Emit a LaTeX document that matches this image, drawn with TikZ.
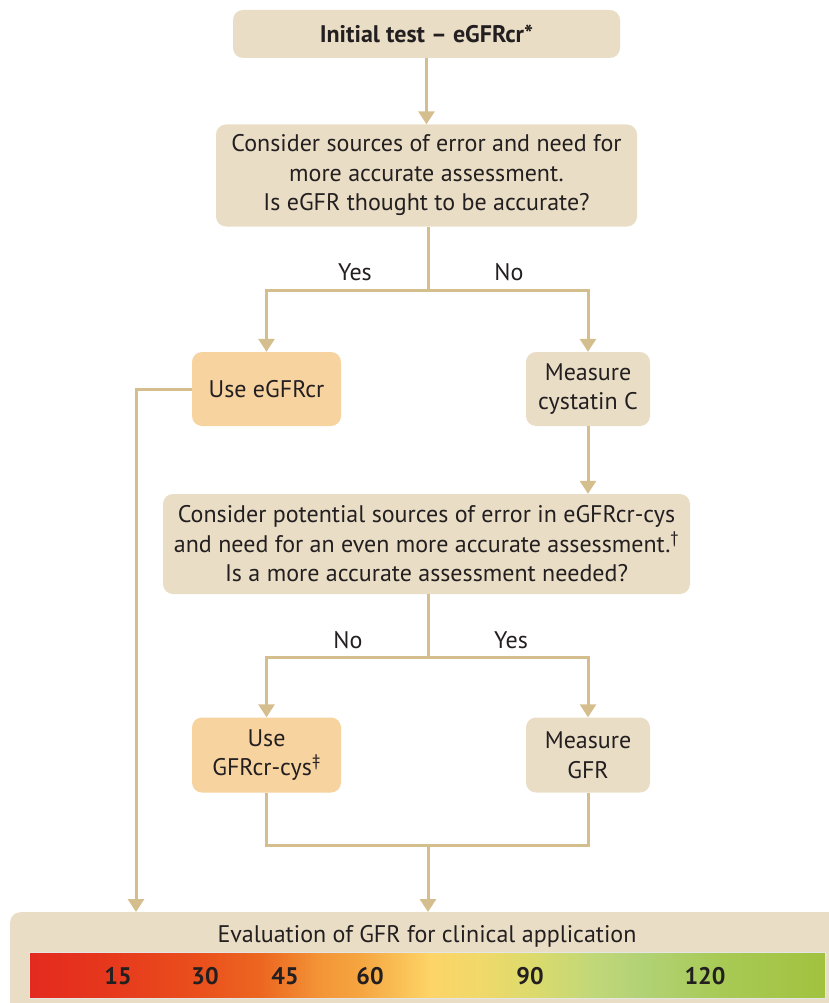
\documentclass[tikz,border=0pt]{standalone}
\usepackage{fontspec}
\setmainfont{PT Sans}
\usetikzlibrary{arrows.meta}
\definecolor{beige}{HTML}{E9DDC5}
\definecolor{peach}{HTML}{F7D3A0}
\definecolor{linec}{HTML}{D5BE8E}
\definecolor{txt}{HTML}{231F20}
\definecolor{g1}{HTML}{E42A1F}
\definecolor{g2}{HTML}{E6361D}
\definecolor{g3}{HTML}{EA501C}
\definecolor{g4}{HTML}{EC6620}
\definecolor{g5}{HTML}{F39537}
\definecolor{g6}{HTML}{F5A540}
\definecolor{g7}{HTML}{FDD467}
\definecolor{g8}{HTML}{F0D96A}
\definecolor{g9}{HTML}{D9DA6D}
\definecolor{g10}{HTML}{C2D878}
\definecolor{g11}{HTML}{B2D276}
\definecolor{g12}{HTML}{A8CA55}
\definecolor{g13}{HTML}{A1C23F}
\begin{document}
\begin{tikzpicture}[x=1pt,y=-1pt,
  box/.style={rounded corners=10pt, fill=beige, align=center, text=txt,
    font=\fontsize{24}{29.5}\selectfont, inner sep=0pt},
  peachbox/.style={box, fill=peach},
  conn/.style={draw=linec, line width=3pt},
  arr/.style={conn, -{Triangle[width=16pt,length=13pt]}},
  lbl/.style={text=txt, font=\fontsize{24}{28}\selectfont, inner sep=0pt},
  num/.style={text=txt, font=\fontsize{24}{28}\selectfont\bfseries, inner sep=0pt}]
\useasboundingbox (0,0) rectangle (829,1003);

\node[box, minimum width=387pt, minimum height=48pt] (init) at (426.5,34)
  {\bfseries Initial test – eGFRcr*};
\node[box, minimum width=421pt, minimum height=102pt] (q1) at (426.5,175.5)
  {Consider sources of error and need for\\more accurate assessment.\\Is eGFR thought to be accurate?};
\node[peachbox, minimum width=149pt, minimum height=74pt] (ueg) at (266.5,389)
  {Use eGFRcr};
\node[box, minimum width=124pt, minimum height=74pt] (cys) at (588,389)
  {Measure\\cystatin C};
\node[box, minimum width=527pt, minimum height=100pt] (q2) at (426.5,544)
  {Consider potential sources of error in eGFRcr-cys\\and need for an even more accurate assessment.\textsuperscript{†}\\Is a more accurate assessment needed?};
\node[peachbox, minimum width=149pt, minimum height=75pt] (ucc) at (266.5,755)
  {Use\\GFRcr-cys\textsuperscript{‡}};
\node[box, minimum width=124pt, minimum height=75pt] (mgfr) at (588,755)
  {Measure\\GFR};

\begin{scope}
  \clip (0,0) rectangle (829,1003);
  \node[box, anchor=north west, minimum width=840pt, minimum height=110pt] (ev) at (10,912) {};
\end{scope}
\node[lbl] (evt) at (427,936) {Evaluation of GFR for clinical application};

% gradient bar
\shade[left color=g1, right color=g2] (29,952) rectangle (100,998);
\shade[left color=g2, right color=g3] (100,952) rectangle (200,998);
\shade[left color=g3, right color=g4] (200,952) rectangle (260,998);
\shade[left color=g4, right color=g5] (260,952) rectangle (320,998);
\shade[left color=g5, right color=g6] (320,952) rectangle (360,998);
\shade[left color=g6, right color=g7] (360,952) rectangle (430,998);
\shade[left color=g7, right color=g8] (430,952) rectangle (480,998);
\shade[left color=g8, right color=g9] (480,952) rectangle (540,998);
\shade[left color=g9, right color=g10] (540,952) rectangle (590,998);
\shade[left color=g10, right color=g11] (590,952) rectangle (640,998);
\shade[left color=g11, right color=g12] (640,952) rectangle (720,998);
\shade[left color=g12, right color=g13] (720,952) rectangle (825,998);
\draw[white!80!gray, line width=1pt] (29,952) rectangle (825,998);

\node[num] (n15) at (118,976) {15};
\node[num] (n30) at (205,976) {30};
\node[num] (n45) at (285,976) {45};
\node[num] (n60) at (370,976) {60};
\node[num] (n90) at (530,976) {90};
\node[num] (n120) at (705,976) {120};

% connectors
\draw[arr] (init.south) -- (q1.north);
\coordinate (s1) at (428,290);
\draw[conn] (q1.south -| s1) -- (s1);
\draw[arr] (s1) -| (ueg.north);
\draw[arr] (s1) -| (cys.north);
\node[lbl] (yes1) at (355,272) {Yes};
\node[lbl] (no1) at (509,272) {No};

\draw[arr] (cys.south) -- (q2.north -| cys.south);

\coordinate (s2) at (428,657);
\draw[conn] (q2.south -| s2) -- (s2);
\draw[arr] (s2) -| (ucc.north);
\draw[arr] (s2) -| (mgfr.north);
\node[lbl] (no2) at (348,640) {No};
\node[lbl] (yes2) at (511,640) {Yes};

\coordinate (j1) at (428,845);
\draw[conn] (ucc.south) |- (j1) -| (mgfr.south);
\coordinate (evt2) at (428,912);
\draw[arr] (j1) -- (evt2);

\coordinate (lft) at (136,912);
\draw[arr] (ueg.west) -| (lft);
\end{tikzpicture}
\end{document}
